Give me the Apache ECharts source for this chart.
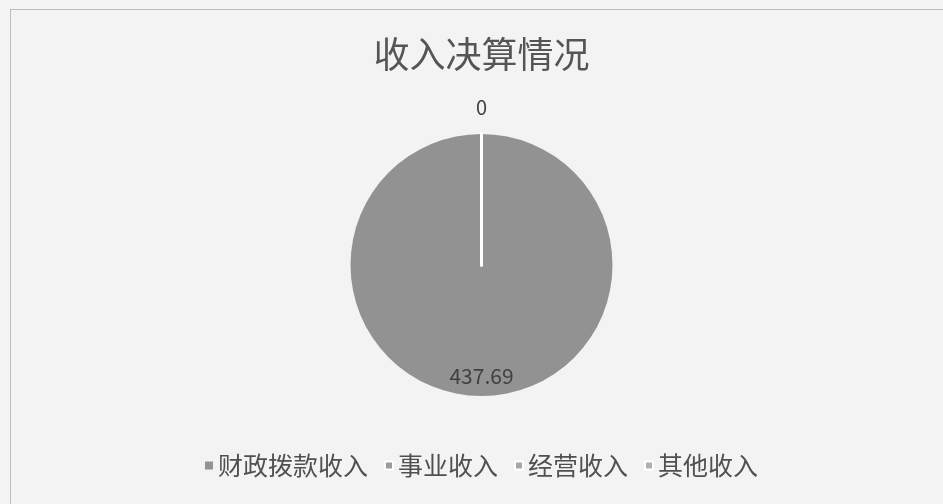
<!DOCTYPE html>
<html>
<head>
<meta charset="utf-8">
<script src="https://cdn.jsdelivr.net/npm/echarts@6/dist/echarts.min.js"></script>
<style>
  html, body { margin: 0; padding: 0; width: 943px; height: 504px; background: #f3f3f3; overflow: hidden; }
  #frame { position: absolute; left: 10px; top: 9px; width: 960px; height: 520px; border: 1px solid #bcbcbc; box-sizing: border-box; }
  #chart { position: absolute; left: 10px; top: 0; width: 943px; height: 504px; }
</style>
</head>
<body>
<div id="frame"></div>
<div id="chart"></div>
<script>
const titleText = '收入决算情况';
const categories = ['财政拨款收入', '事业收入', '经营收入', '其他收入'];
const values = [437.69, 0, 0, 0];
const colors = ['#929292', '#9c9c9c', '#a6a6a6', '#b0b0b0'];

const chart = echarts.init(document.getElementById('chart'), null, { renderer: 'canvas' });

const data = categories.map((name, i) => {
  const item = { name: name, value: values[i] };
  if (values[i] === 0) {
    item.itemStyle = { color: colors[i], borderColor: '#ffffff', borderWidth: 3 };
    item.label = i === 1 ? {
      show: true, position: 'outside', fontSize: 20, color: '#404040',
      distanceToLabelLine: -5.5
    } : { show: false };
  } else {
    item.itemStyle = { color: colors[i], borderWidth: 0 };
    item.label = {
      show: true, position: 'inside',
      formatter: '{gap|}\n{val|{c}}',
      rich: {
        gap: { lineHeight: 86, fontSize: 10 },
        val: { fontSize: 21, color: '#404040', lineHeight: 26 }
      }
    };
  }
  return item;
});

chart.setOption({
  animation: false,
  backgroundColor: 'transparent',
  textStyle: { fontFamily: '"Noto Sans CJK SC", "Noto Sans", sans-serif' },
  title: {
    text: titleText,
    left: 'center',
    top: 31,
    textStyle: { fontSize: 36, fontWeight: 'normal', color: '#555555', fontFamily: '"Noto Sans CJK SC", sans-serif' }
  },
  legend: {
    data: categories,
    bottom: 21,
    left: 'center',
    icon: 'rect',
    itemWidth: 8,
    itemHeight: 8,
    itemGap: 16,
    textStyle: { fontSize: 25, color: '#505050', fontFamily: '"Noto Sans CJK SC", sans-serif' }
  },
  series: [{
    type: 'pie',
    center: ['50%', 265],
    radius: 131,
    startAngle: 90,
    clockwise: true,
    avoidLabelOverlap: false,
    minShowLabelAngle: 0,
    label: { show: false, formatter: '{c}' },
    labelLine: { show: false, length: 27, length2: 0 },
    emphasis: { disabled: true },
    data: data
  }]
});
</script>
</body>
</html>
